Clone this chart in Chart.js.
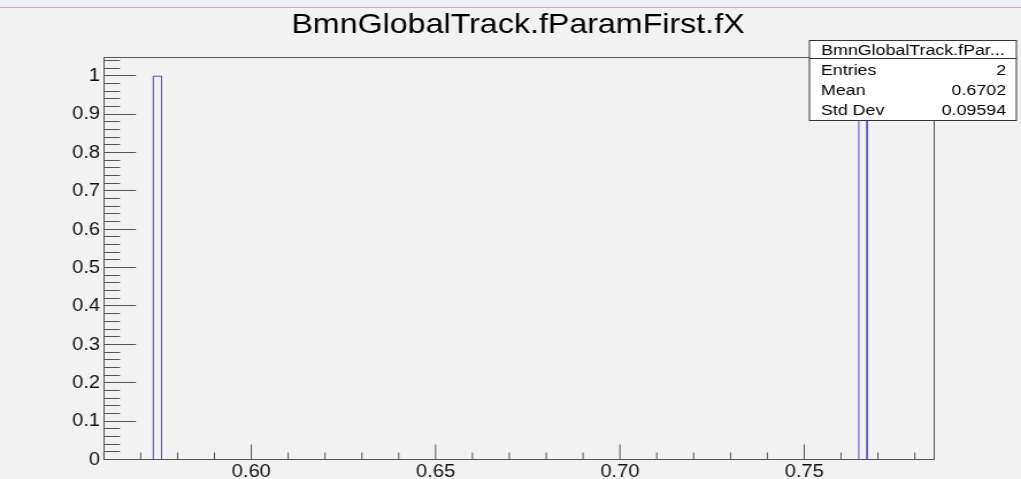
<!DOCTYPE html>
<html>
<head>
<meta charset="utf-8">
<script src="https://cdn.jsdelivr.net/npm/chart.js@4.4.1/dist/chart.umd.min.js"></script>
<style>
  html, body { margin: 0; padding: 0; background: #f2f2f2; overflow: hidden; }
  #wrap { position: absolute; left: 0; top: 0; width: 888px; height: 479px;
          transform: scaleX(1.14977); transform-origin: 0 0; }
  #strip { position: absolute; left: 0; top: 0; width: 1021px; height: 7px;
           background: #edf1f6; border-bottom: 1px solid #e9a3a3; }
</style>
</head>
<body>
<div id="wrap"><canvas id="hist" width="888" height="479"></canvas></div>
<div id="strip"></div>
<script>
// ============================
// DATA
// ============================
const histTitle = "BmnGlobalTrack.fParamFirst.fX";
const xRange = [0.5599, 0.7851];
const yRange = [0, 1.05];
const xTicks = [0.60, 0.65, 0.70, 0.75];
const xTickLabels = ["0.60", "0.65", "0.70", "0.75"];
const yTicks = [0, 0.1, 0.2, 0.3, 0.4, 0.5, 0.6, 0.7, 0.8, 0.9, 1];
const yTickLabels = ["0", "0.1", "0.2", "0.3", "0.4", "0.5", "0.6", "0.7", "0.8", "0.9", "1"];
const binStarts = [0.5734, 0.7648];
const binCounts = [1, 1];
const binWidth = 0.00225;
const statsTitle = "BmnGlobalTrack.fPar...";
const statsNames = ["Entries", "Mean", "Std Dev"];
const statsValues = ["2", "0.6702", "0.09594"];

const FONT = "'Liberation Sans', Arial, sans-serif";

// ============================
// HISTOGRAM OUTLINE
// ============================
function outlinePoints() {
  const pts = [];
  binStarts.forEach((s, i) => {
    pts.push({ x: s, y: 0 }, { x: s, y: binCounts[i] },
             { x: s + binWidth, y: binCounts[i] }, { x: s + binWidth, y: 0 },
             { x: s + binWidth, y: null });
  });
  return pts;
}

// ============================
// FRAME, INWARD TICKS, TITLE, STATS BOX
// ============================
const rootDecor = {
  id: "rootDecor",
  afterDatasetsDraw(chart) {
    const { ctx, chartArea: a, scales: { x, y } } = chart;
    ctx.save();
    ctx.strokeStyle = "#555";
    ctx.lineWidth = 1;
    const L = Math.round(a.left) + 0.5, R = Math.round(a.right) + 0.5;
    const T = Math.round(a.top) + 0.5, B = Math.round(a.bottom) - 0.5;
    ctx.strokeRect(L, T, R - L, B - T);

    ctx.beginPath();
    for (let k = 0; k <= 52; k++) {
      const py = Math.round(y.getPixelForValue(k / 50)) - 0.5;
      const len = k % 5 === 0 ? 27.8 : 13.9;
      ctx.moveTo(L, py); ctx.lineTo(L + len, py);
    }
    for (let k = 56; k <= 78; k++) {
      const v = k / 100;
      if (v <= xRange[0] || v >= xRange[1]) continue;
      const px = x.getPixelForValue(v);
      const len = k % 5 === 0 ? 15 : 7;
      ctx.moveTo(px, B); ctx.lineTo(px, B - len);
    }
    ctx.stroke();
    ctx.restore();
  },
  afterDraw(chart) {
    const { ctx } = chart;
    ctx.save();
    ctx.fillStyle = "#000";
    ctx.font = "28px " + FONT;
    ctx.textAlign = "center";
    ctx.textBaseline = "alphabetic";
    ctx.fillText(histTitle, 450.5, 33);

    // stats box
    const bx = 704, by = 40.5, bw = 180, bh = 80;
    ctx.fillStyle = "#fff";
    ctx.fillRect(bx, by, bw, bh);
    ctx.strokeStyle = "#333";
    ctx.lineWidth = 1;
    ctx.strokeRect(bx, by, bw, bh);
    ctx.beginPath();
    ctx.moveTo(bx, 58.5); ctx.lineTo(bx + bw, 58.5);
    ctx.stroke();

    ctx.fillStyle = "#000";
    ctx.font = "15.5px " + FONT;
    ctx.fillText(statsTitle, bx + bw / 2, 55);
    statsNames.forEach((n, i) => {
      const base = 75 + i * 20;
      ctx.textAlign = "left";
      ctx.fillText(n, bx + 10, base);
      ctx.textAlign = "right";
      ctx.fillText(statsValues[i], bx + bw - 9, base);
    });
    ctx.restore();
  }
};

new Chart(document.getElementById("hist"), {
  type: "line",
  data: {
    datasets: [{
      data: outlinePoints(),
      borderColor: "rgb(80,80,200)",
      borderWidth: 1,
      pointRadius: 0,
      tension: 0,
      fill: false,
      spanGaps: false
    }]
  },
  options: {
    responsive: false,
    animation: false,
    devicePixelRatio: 1,
    layout: { padding: { top: 57, right: 76, left: 0, bottom: 0 } },
    plugins: { legend: { display: false }, title: { display: false }, tooltip: { enabled: false } },
    scales: {
      x: {
        type: "linear",
        min: xRange[0], max: xRange[1],
        grid: { display: false, drawTicks: false },
        border: { display: false },
        afterBuildTicks: s => { s.ticks = xTicks.map(v => ({ value: v })); },
        afterFit: s => { s.height = 19; },
        ticks: {
          padding: 2,
          maxRotation: 0,
          color: "#111",
          font: { family: FONT, size: 17.5 },
          callback: (v, i) => xTickLabels[i]
        }
      },
      y: {
        type: "linear",
        min: yRange[0], max: yRange[1],
        grid: { display: false, drawTicks: false },
        border: { display: false },
        afterBuildTicks: s => { s.ticks = yTicks.map(v => ({ value: v })); },
        afterFit: s => { s.width = 90; },
        ticks: {
          padding: 3,
          color: "#111",
          font: { family: FONT, size: 17.5 },
          callback: (v, i) => yTickLabels[i]
        }
      }
    }
  },
  plugins: [rootDecor]
});
</script>
</body>
</html>
